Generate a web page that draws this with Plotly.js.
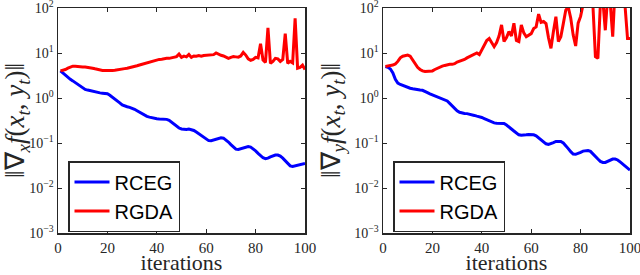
<!DOCTYPE html>
<html><head><meta charset="utf-8">
<script src="https://cdn.plot.ly/plotly-3.0.1.min.js"></script>
<style>html,body{margin:0;padding:0;background:#fff;}#chart{width:640px;height:275px;}</style>
</head><body><div id="chart"></div>
<script>
const iterations = [1,2,3,4,5,6,7,8,9,10,11,12,13,14,15,16,17,18,19,20,21,22,23,24,25,26,27,28,29,30,31,32,33,34,35,36,37,38,39,40,41,42,43,44,45,46,47,48,49,50,51,52,53,54,55,56,57,58,59,60,61,62,63,64,65,66,67,68,69,70,71,72,73,74,75,76,77,78,79,80,81,82,83,84,85,86,87,88,89,90,91,92,93,94,95,96,97,98,99,100];

// Left panel: ||grad_x f||
const rcegX = [4.0,3.6,3.2,2.8,2.6,2.4,2.2,2.0,1.8,1.65,1.55,1.5,1.45,1.42,1.4,1.35,1.3,1.28,1.27,1.24,
  1.15,1.05,0.97,0.88,0.78,0.70,0.66,0.64,0.62,0.60,0.56,0.52,0.48,0.44,0.41,0.39,0.375,0.36,0.35,0.345,
  0.34,0.34,0.34,0.335,0.32,0.29,0.26,0.235,0.215,0.205,0.2,0.2,0.205,0.2,0.19,0.175,0.16,0.145,0.13,0.12,
  0.113,0.112,0.117,0.124,0.13,0.131,0.128,0.118,0.105,0.092,0.08,0.073,0.072,0.075,0.079,0.082,0.083,0.081,0.075,0.067,
  0.059,0.052,0.047,0.045,0.046,0.049,0.052,0.054,0.054,0.051,0.046,0.04,0.035,0.031,0.030,0.031,0.033,0.034,0.035,0.035];
const rgdaX = [4.0,4.1,4.3,4.6,4.9,5.1,5.1,5.0,4.95,4.9,4.9,4.85,4.8,4.6,4.45,4.3,4.2,4.1,4.1,4.05,
  4.05,4.1,4.15,4.2,4.3,4.4,4.5,4.6,4.7,4.85,5.0,5.2,5.4,5.6,5.8,6.0,6.3,6.6,6.8,7.0,
  7.2,7.3,7.5,7.6,7.6,7.9,8.0,8.3,9.5,8.0,8.5,8.2,9.3,8.0,8.6,8.5,8.8,8.5,8.8,8.9,
  9.1,9.0,9.2,10.0,9.3,8.9,8.6,8.2,7.6,8.0,8.3,8.2,8.1,8.6,10.3,9.0,7.4,6.9,7.2,8.0,
  7.8,16,7.0,6.2,36,5.9,6.5,7.6,7.4,6.5,7.2,27,5.9,6.5,6.0,59,4.6,4.8,5.4,4.3];

// Right panel: ||grad_y f||
const rcegY = [5.0,4.8,4.4,3.6,2.6,2.15,2.0,1.9,1.78,1.7,1.65,1.6,1.55,1.52,1.5,1.48,1.42,1.32,1.24,1.18,
  1.13,1.08,1.03,0.98,0.93,0.86,0.76,0.66,0.58,0.52,0.48,0.46,0.455,0.45,0.44,0.43,0.41,0.395,0.385,0.37,
  0.35,0.33,0.31,0.29,0.28,0.275,0.275,0.275,0.27,0.25,0.23,0.205,0.185,0.165,0.152,0.148,0.148,0.152,0.155,0.155,
  0.152,0.145,0.132,0.118,0.105,0.096,0.093,0.096,0.102,0.108,0.11,0.108,0.1,0.088,0.075,0.064,0.057,0.056,0.058,0.062,
  0.066,0.068,0.068,0.065,0.058,0.05,0.044,0.039,0.037,0.037,0.039,0.042,0.044,0.044,0.042,0.038,0.034,0.03,0.027,0.025];
const rgdaY = [5.0,5.2,5.3,5.4,5.7,6.5,7.8,8.5,8.8,9.0,8.5,7.0,5.6,4.8,4.3,4.0,3.9,3.9,3.9,4.0,
  4.3,4.6,4.9,5.1,5.3,5.5,5.6,5.6,5.8,6.3,6.6,6.8,7.2,7.8,8.3,8.8,9.5,10.0,9.2,11.5,
  15,19,21,17,13.8,17,24,42,18,22,30,24,46,19,18,42,28,23,25,27,
  35,38,73,48,50,45,22,12.7,30,64,18,23,45,90,105,60,25,14.3,46,65,
  120,300,400,200,110,8.3,7.6,120,150,32,200,130,23,300,400,300,200,110,21,21];

const seriesNames = ['RCEG', 'RGDA'];
const yTickVals = [0.001, 0.01, 0.1, 1, 10, 100];
const yTickText = ['10<sup>\u22123</sup>','10<sup>\u22122</sup>','10<sup>\u22121</sup>','10<sup>0</sup>','10<sup>1</sup>','10<sup>2</sup>'];
const xTickVals = [0, 20, 40, 60, 80, 100];
const yTitles = ['\u2016\u2207<sub><i>x</i></sub><i>f</i>(<i>x</i><sub><i>t</i></sub>, <i>y</i><sub><i>t</i></sub>)\u2016',
                 '\u2016\u2207<sub><i>y</i></sub><i>f</i>(<i>x</i><sub><i>t</i></sub>, <i>y</i><sub><i>t</i></sub>)\u2016'];

const BLUE = '#0000ff', RED = '#ff0000', AX = '#262626';
const serif = 'Liberation Serif, Times New Roman, serif';
const sans = 'Liberation Sans, Arial, sans-serif';

const traces = [
  {x: iterations, y: rcegX, name: seriesNames[0], type: 'scatter', mode: 'lines', line: {color: BLUE, width: 3}, xaxis: 'x', yaxis: 'y', legend: 'legend'},
  {x: iterations, y: rgdaX, name: seriesNames[1], type: 'scatter', mode: 'lines', line: {color: RED, width: 3}, xaxis: 'x', yaxis: 'y', legend: 'legend'},
  {x: iterations, y: rcegY, name: seriesNames[0], type: 'scatter', mode: 'lines', line: {color: BLUE, width: 3}, xaxis: 'x2', yaxis: 'y2', legend: 'legend2'},
  {x: iterations, y: rgdaY, name: seriesNames[1], type: 'scatter', mode: 'lines', line: {color: RED, width: 3}, xaxis: 'x2', yaxis: 'y2', legend: 'legend2'}
];

// plot area in pixels: left 58, right 630, top 8, bottom 233
const ML = 58, MR = 10, MT = 8, MB = 42, W = 640, H = 275;
const PW = W - ML - MR, PH = H - MT - MB;

function xAxis(domain, anchor) {
  return {domain: domain, anchor: anchor, range: [0, 100], tickmode: 'array', tickvals: xTickVals,
    ticks: 'inside', ticklen: 4, tickwidth: 1, tickcolor: AX, showline: true, linecolor: AX, linewidth: 1.5, mirror: 'ticks',
    showgrid: false, zeroline: false, ticklabeloverflow: 'allow', tickfont: {family: serif, size: 15, color: AX},
    title: {text: 'iterations', font: {family: serif, size: 22, color: AX}, standoff: 4}, automargin: false};
}
function yAxis(anchor, title) {
  return {domain: [0, 1], anchor: anchor, type: 'log', range: [-3, 2], tickmode: 'array', tickvals: yTickVals, ticktext: yTickText,
    ticks: 'inside', ticklen: 4, tickwidth: 1, tickcolor: AX, showline: true, linecolor: AX, linewidth: 1.5, mirror: 'ticks',
    showgrid: false, zeroline: false, ticklabeloverflow: 'allow', tickfont: {family: serif, size: 14, color: AX},
    title: {text: title, font: {family: serif, size: 27, color: AX}, standoff: 6}, automargin: false};
}
const legendBase = {xanchor: 'left', yanchor: 'top', bgcolor: '#fff', bordercolor: AX, borderwidth: 1.5,
    font: {family: sans, size: 20, color: '#000'}, tracegroupgap: 0, itemwidth: 35};
const layout = {
  width: W, height: H, margin: {l: ML, r: MR, t: MT, b: MB, pad: 0}, paper_bgcolor: '#fff', plot_bgcolor: '#fff',
  showlegend: true,
  xaxis: xAxis([0, (305 - ML) / PW], 'y'),
  yaxis: yAxis('x', yTitles[0]),
  xaxis2: xAxis([(383 - ML) / PW, (630 - ML) / PW], 'y2'),
  yaxis2: yAxis('x2', yTitles[1]),
  legend: Object.assign({x: (68 - ML) / PW, y: 1 - (161 - MT) / PH}, legendBase),
  legend2: Object.assign({x: (393 - ML) / PW, y: 1 - (161 - MT) / PH}, legendBase)
};
Plotly.newPlot('chart', traces, layout, {displayModeBar: false, staticPlot: true});
</script></body></html>
